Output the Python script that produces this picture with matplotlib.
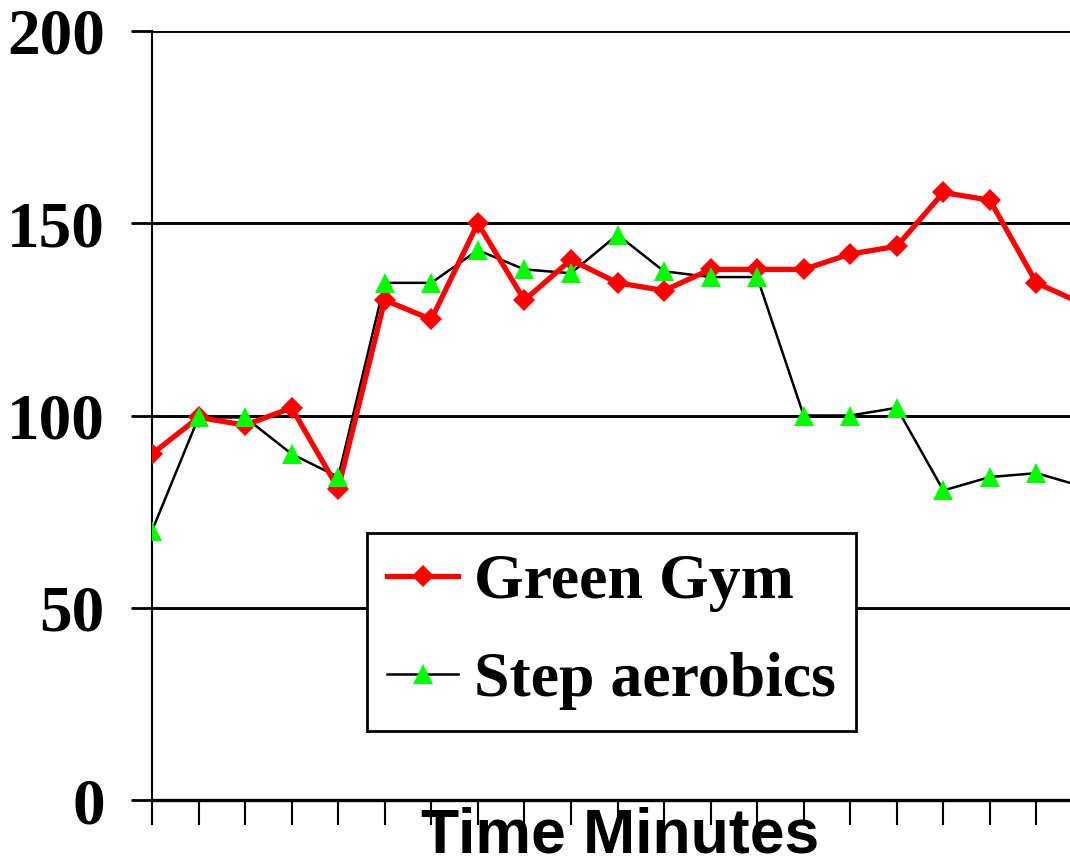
import matplotlib
matplotlib.use('Agg')
import matplotlib.pyplot as plt
from matplotlib import font_manager
from matplotlib.lines import Line2D

# values
minutes = list(range(21))
green_gym = [90, 99.5, 97.5, 102, 81, 130, 125, 150, 130, 140.5, 134.5, 132.5,
             138, 138, 138, 142, 144, 158, 156, 134.5, 129]
step_aerobics = [70, 99.5, 99.5, 90, 84, 134.5, 134.5, 143, 138, 137, 147, 137.5,
                 136, 136, 100, 100, 102, 80.5, 84, 85, 81.5]
y_ticks = [0, 50, 100, 150, 200]

names = {f.name for f in font_manager.fontManager.ttflist}
serif = 'Liberation Serif' if 'Liberation Serif' in names else 'DejaVu Serif'
sans = 'Liberation Sans Narrow' if 'Liberation Sans Narrow' in names else 'Liberation Sans'

fig = plt.figure(figsize=(10.7, 8.64), dpi=100)
ax = fig.add_axes([152 / 1070, 64 / 864, 918 / 1070, 769 / 864])

# lines first, then markers on top
ax.plot(minutes, step_aerobics, color='black', lw=1.8, zorder=2)
ax.plot(minutes, green_gym, color='red', lw=3.8, zorder=3)
ax.plot(minutes, green_gym, ls='none', marker='D', ms=11, color='red', mew=0, zorder=3.5)
ax.plot(minutes, step_aerobics, ls='none', marker='^', ms=15, color='#00ff00', mew=0, zorder=4)

ax.set_yticks(y_ticks)
ax.set_yticklabels([str(v) for v in y_ticks], fontfamily=serif, fontweight='bold', fontsize=47)
ax.set_xticks(minutes)
ax.set_xticklabels([])
ax.set_xlim(0, 918 / 46.55)
ax.set_ylim(0, 200)
ax.tick_params(axis='y', direction='out', length=15, width=2, pad=19)
ax.tick_params(axis='x', direction='out', length=18, width=1.5)
ax.yaxis.grid(True, color='black', lw=2.1)
ax.set_axisbelow(True)
for s in ['top', 'right']:
    ax.spines[s].set_visible(False)
ax.spines['left'].set_linewidth(1.5)
ax.spines['bottom'].set_linewidth(2.4)

ax.set_xlabel('Time Minutes', fontfamily=sans, fontweight='bold', fontsize=45, va='baseline')
ax.xaxis.set_label_coords(0.51, -0.068)

handles = [
    Line2D([], [], color='red', lw=3.8, marker='D', ms=11, mew=0),
    Line2D([], [], color='black', lw=1.8, marker='^', ms=15, mec='#00ff00', mfc='#00ff00', mew=0),
]
leg = ax.legend(handles, ['Green Gym', 'Step aerobics'], loc='upper left',
                bbox_to_anchor=(367 / 1070, 1 - 533 / 864), bbox_transform=fig.transFigure,
                prop={'family': serif, 'weight': 'bold', 'size': 46},
                frameon=True, fancybox=False, framealpha=1, edgecolor='black',
                borderaxespad=0, borderpad=0.32, handlelength=1.1, handletextpad=0.25,
                labelspacing=0.62)
leg.get_frame().set_linewidth(2)
leg.set_zorder(5)

fig.savefig('out.png', dpi=100)
